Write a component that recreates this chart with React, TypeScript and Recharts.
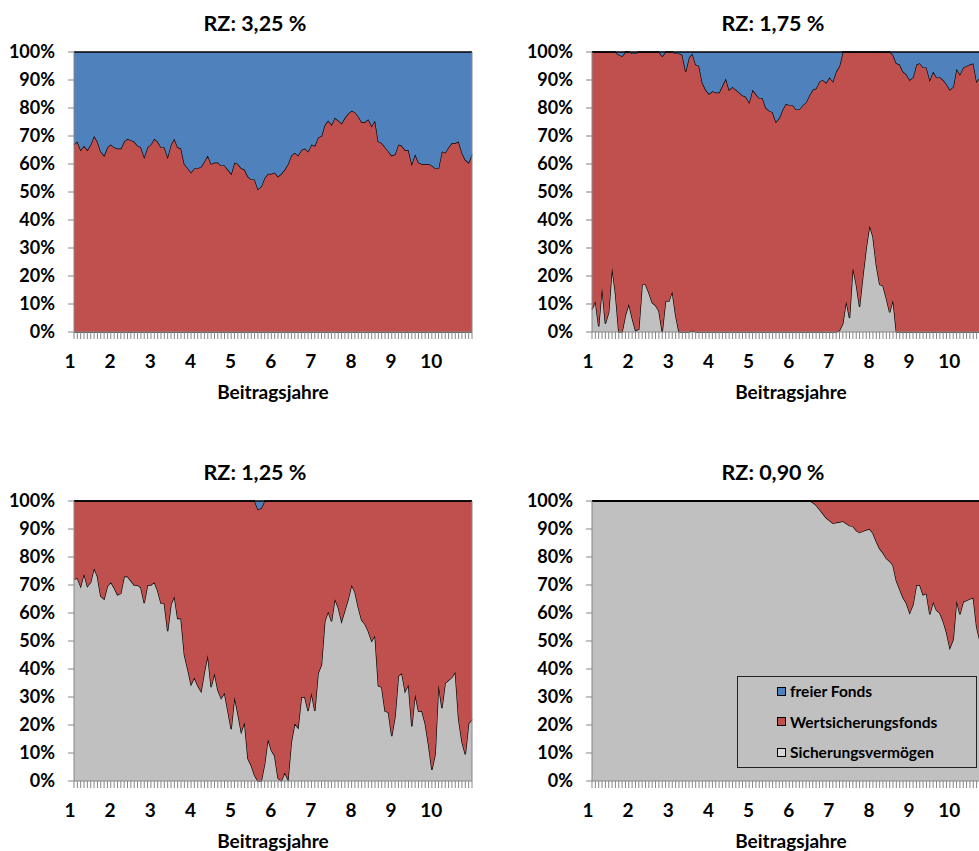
import { Area, AreaChart, ReferenceLine, XAxis, YAxis } from 'recharts'

// Anteile in % je Beitragsmonat (12 Werte je Zeile = ein Beitragsjahr).
// "Sv" = Sicherungsvermögen, "SvWf" = Sicherungsvermögen + Wertsicherungsfonds (kumuliert).
const rz325Sv = [
  0, 0, 0, 0, 0, 0, 0, 0, 0, 0, 0, 0,
  0, 0, 0, 0, 0, 0, 0, 0, 0, 0, 0, 0,
  0, 0, 0, 0, 0, 0, 0, 0, 0, 0, 0, 0,
  0, 0, 0, 0, 0, 0, 0, 0, 0, 0, 0, 0,
  0, 0, 0, 0, 0, 0, 0, 0, 0, 0, 0, 0,
  0, 0, 0, 0, 0, 0, 0, 0, 0, 0, 0, 0,
  0, 0, 0, 0, 0, 0, 0, 0, 0, 0, 0, 0,
  0, 0, 0, 0, 0, 0, 0, 0, 0, 0, 0, 0,
  0, 0, 0, 0, 0, 0, 0, 0, 0, 0, 0, 0,
  0, 0, 0, 0, 0, 0, 0, 0, 0, 0, 0, 0,
]
const rz325SvWf = [
  67, 68, 65, 66.5, 65, 67, 70, 68, 64.5, 63, 66, 67,
  66, 65.5, 65.5, 68, 69, 68.5, 68, 66.5, 66, 62.5, 66, 67,
  69, 68, 66, 66, 62.5, 67, 69, 66, 65.5, 60, 58.5, 57,
  58.5, 58.5, 59, 61, 63, 60, 60.5, 60.5, 59.5, 59.5, 58, 56.5,
  60.5, 60, 58.5, 58, 55.5, 54.5, 54.5, 51, 52, 55, 56.5, 56.5,
  57, 55.5, 56.5, 58, 60, 63, 64, 63, 65, 65.5, 64.5, 67,
  66.5, 69.5, 70, 74, 75.5, 74, 76.5, 75.5, 74.5, 76.5, 78, 79,
  78.5, 77, 75, 75, 76, 73.5, 75.5, 68, 67.5, 66, 64.5, 63,
  63.5, 67, 66.5, 65, 65, 60, 63.5, 60.5, 60, 60, 60, 59.5,
  58.5, 58.5, 64.5, 64, 66, 67.5, 67.5, 68, 64, 61.5, 60.5, 63.5,
]

const rz175Sv = [
  8, 11, 2, 16, 3, 7, 23, 14, 0, 0, 6, 10,
  5, 0.5, 1, 17, 17, 14, 10.5, 9.5, 7.5, 0, 11, 11,
  14.5, 6, 0, 0, 0, 0, 0.5, 0, 0, 0, 0, 0,
  0, 0, 0, 0, 0, 0, 0, 0, 0, 0, 0, 0,
  0, 0, 0, 0, 0, 0, 0, 0, 0, 0, 0, 0,
  0, 0, 0, 0, 0, 0, 0, 0, 0, 0, 0, 0,
  0, 0, 0.5, 3, 11, 5, 23, 17, 9, 20, 30, 38,
  34, 24, 17, 16.5, 12, 7, 11.5, 0, 0, 0, 0, 0,
  0, 0, 0, 0, 0, 0, 0, 0, 0, 0, 0, 0,
  0, 0, 0, 0, 0, 0, 0, 0, 0, 0, 0, 0,
]
const rz175SvWf = [
  100, 100, 100, 100, 100, 100, 100, 100, 99, 98.5, 100, 100,
  99.5, 99.5, 100, 100, 100, 100, 100, 100, 100, 98.5, 100, 100,
  100, 99.5, 99.5, 99, 93, 98, 99.5, 95.5, 95, 89, 86.5, 85,
  86, 85.5, 85.5, 88, 90.5, 86.5, 87.5, 86.5, 85.5, 84.5, 84, 82,
  86.5, 85, 83.5, 83.5, 80, 79, 78.5, 75, 76.5, 79.5, 81.5, 81,
  81, 79.5, 79.5, 81, 82, 84.5, 86.5, 87, 89.5, 90, 89, 91,
  89.5, 93, 95, 100, 100, 100, 100, 100, 100, 100, 100, 100,
  100, 100, 100, 100, 100, 100, 99, 96, 95.5, 93, 92, 90,
  91, 95.5, 96, 94.5, 94.5, 90, 93, 91, 91, 90, 88.5, 86.5,
  87.5, 94, 92, 94.5, 95, 95.5, 96, 89.5, 91, 92, 90, 91,
]

const rz125Sv = [
  72, 72.5, 69.5, 74, 69.5, 71, 76, 73, 66, 65, 69.5, 71,
  69, 66.5, 67, 73, 73, 71.5, 70, 70, 69, 63.5, 70, 70,
  71, 68, 63.5, 63.5, 53.5, 63, 66, 58, 58, 45, 40, 34.5,
  37, 34, 32, 39, 45, 33.5, 38.5, 32.5, 29.5, 31.5, 25, 18.5,
  30, 24, 17.5, 21, 8, 5.5, 2, 0, 0, 6, 15, 11,
  9, 1, 0, 3, 0.5, 14, 20.5, 19, 30, 30, 25, 31.5,
  25, 38.5, 41.5, 57, 60.5, 57, 65, 62, 57, 61, 65, 70,
  67.5, 62, 57.5, 56, 53.5, 50, 52, 34, 33.5, 25, 24.5, 16,
  23, 37.5, 38.5, 32, 34.5, 19.5, 31, 25, 25, 20.5, 13, 4,
  9.5, 34.5, 26, 35, 36, 37, 39, 22, 14, 9.5, 20.5, 22,
]
const rz125SvWf = [
  100, 100, 100, 100, 100, 100, 100, 100, 100, 100, 100, 100,
  100, 100, 100, 100, 100, 100, 100, 100, 100, 100, 100, 100,
  100, 100, 100, 100, 100, 100, 100, 100, 100, 100, 100, 100,
  100, 100, 100, 100, 100, 100, 100, 100, 100, 100, 100, 100,
  100, 100, 100, 100, 100, 100, 100, 97, 97.5, 100, 100, 100,
  100, 100, 100, 100, 100, 100, 100, 100, 100, 100, 100, 100,
  100, 100, 100, 100, 100, 100, 100, 100, 100, 100, 100, 100,
  100, 100, 100, 100, 100, 100, 100, 100, 100, 100, 100, 100,
  100, 100, 100, 100, 100, 100, 100, 100, 100, 100, 100, 100,
  100, 100, 100, 100, 100, 100, 100, 100, 100, 100, 100, 100,
]

const rz090Sv = [
  100, 100, 100, 100, 100, 100, 100, 100, 100, 100, 100, 100,
  100, 100, 100, 100, 100, 100, 100, 100, 100, 100, 100, 100,
  100, 100, 100, 100, 100, 100, 100, 100, 100, 100, 100, 100,
  100, 100, 100, 100, 100, 100, 100, 100, 100, 100, 100, 100,
  100, 100, 100, 100, 100, 100, 100, 100, 100, 100, 100, 100,
  100, 100, 100, 100, 100, 100, 99.5, 98.5, 97, 95.5, 94, 93,
  92, 92.3, 92.5, 92.8, 92, 91.2, 91, 89.5, 88.7, 89.2, 89.7, 90,
  88.5, 85.5, 83, 81.5, 79.5, 78.5, 77, 71.5, 68.5, 65.5, 63.5, 60,
  63, 70, 70, 66.5, 67, 59.5, 64, 61, 60, 57, 53, 47.5,
  50.5, 64.5, 59.5, 64, 64.5, 65, 65.5, 55, 50, 52, 55, 53,
]
const rz090SvWf = [
  100, 100, 100, 100, 100, 100, 100, 100, 100, 100, 100, 100,
  100, 100, 100, 100, 100, 100, 100, 100, 100, 100, 100, 100,
  100, 100, 100, 100, 100, 100, 100, 100, 100, 100, 100, 100,
  100, 100, 100, 100, 100, 100, 100, 100, 100, 100, 100, 100,
  100, 100, 100, 100, 100, 100, 100, 100, 100, 100, 100, 100,
  100, 100, 100, 100, 100, 100, 100, 100, 100, 100, 100, 100,
  100, 100, 100, 100, 100, 100, 100, 100, 100, 100, 100, 100,
  100, 100, 100, 100, 100, 100, 100, 100, 100, 100, 100, 100,
  100, 100, 100, 100, 100, 100, 100, 100, 100, 100, 100, 100,
  100, 100, 100, 100, 100, 100, 100, 100, 100, 100, 100, 100,
]

const YEAR_LABELS = ['1', '2', '3', '4', '5', '6', '7', '8', '9', '10']
const PERCENT_TICKS = [0, 10, 20, 30, 40, 50, 60, 70, 80, 90, 100]

const SERIES = [
  { key: 'ff', name: 'freier Fonds', color: '#4F81BD' },
  { key: 'wf', name: 'Wertsicherungsfonds', color: '#C0504D' },
  { key: 'sv', name: 'Sicherungsvermögen', color: '#C0C0C0' },
]

const FONT = 'Lato, "Open Sans", sans-serif'
const AXIS = '#868686'
const CHART_W = 518
const CHART_H = 440
const MONTH_TICKS = rz325SvWf.map((_, i) => i)
const LAST_MONTH = MONTH_TICKS.length - 1

function buildRows(sv: number[], svwf: number[]) {
  return sv.map((value, i) => ({
    m: i,
    sv: value,
    wf: svwf[i] - value,
    ff: 100 - svwf[i],
  }))
}

function YearTick(props: any) {
  const { x, y, payload } = props
  if (payload.value % 12 !== 0) return <g />
  return (
    <text
      x={x - 4}
      y={y + 21}
      textAnchor="middle"
      dominantBaseline="central"
      fontFamily={FONT}
      fontSize={19}
      fontWeight={700}
      fill="#000"
    >
      {YEAR_LABELS[payload.value / 12]}
    </text>
  )
}

interface PanelProps {
  title: string
  sv: number[]
  svwf: number[]
  left: number
  top: number
}

function Panel({ title, sv, svwf, left, top }: PanelProps) {
  const rows = buildRows(sv, svwf)
  const stackOrder = [...SERIES].reverse()

  return (
    <div style={{ position: 'absolute', left, top, width: CHART_W, height: CHART_H }}>
      <div
        style={{
          position: 'absolute',
          left: 0,
          width: 510,
          top: 8,
          height: 30,
          lineHeight: '30px',
          textAlign: 'center',
          fontSize: 21.5,
          fontWeight: 700,
          color: '#000',
        }}
      >
        {title}
      </div>
      <AreaChart
        width={CHART_W}
        height={CHART_H}
        data={rows}
        margin={{ top: 52, right: 46, bottom: 58, left: 14 }}
      >
        <XAxis
          type="number"
          dataKey="m"
          domain={[0, LAST_MONTH]}
          ticks={MONTH_TICKS}
          interval={0}
          tickSize={7}
          tickMargin={0}
          height={50}
          axisLine={{ stroke: AXIS }}
          tickLine={{ stroke: AXIS }}
          tick={(p: any) => <YearTick {...p} />}
        />
        <YAxis
          type="number"
          domain={[0, 100]}
          ticks={PERCENT_TICKS}
          interval={0}
          width={60}
          tickSize={6}
          tickMargin={13}
          axisLine={{ stroke: AXIS }}
          tickLine={{ stroke: AXIS }}
          tickFormatter={(v) => `${v}%`}
          tick={{ fill: '#000', fontSize: 18, fontWeight: 700, fontFamily: FONT }}
        />
        {stackOrder.map((s) => (
          <Area
            key={s.key}
            type="linear"
            dataKey={s.key}
            name={s.name}
            stackId="anteil"
            fill={s.color}
            fillOpacity={1}
            stroke="#000"
            strokeWidth={1.3}
            dot={false}
            activeDot={false}
            isAnimationActive={false}
          />
        ))}
        <ReferenceLine x={LAST_MONTH} stroke={AXIS} />
      </AreaChart>
      <div
        style={{
          position: 'absolute',
          left: 74,
          width: 398,
          top: 377,
          height: 30,
          lineHeight: '30px',
          textAlign: 'center',
          fontSize: 19,
          fontWeight: 700,
          color: '#000',
        }}
      >
        Beitragsjahre
      </div>
    </div>
  )
}

function Legend() {
  return (
    <div
      style={{
        position: 'absolute',
        left: 737,
        top: 676,
        width: 240,
        height: 92,
        boxSizing: 'border-box',
        border: '1px solid #222',
      }}
    >
      {SERIES.map((s, i) => (
        <div
          key={s.key}
          style={{
            position: 'absolute',
            left: 39,
            top: 3 + i * 30.5,
            height: 22,
            display: 'flex',
            alignItems: 'center',
            whiteSpace: 'nowrap',
          }}
        >
          <span
            style={{
              width: 9,
              height: 9,
              boxSizing: 'border-box',
              border: '1px solid #000',
              background: s.key === 'sv' ? '#D8D8D8' : s.color,
              marginRight: 4,
            }}
          />
          <span style={{ fontSize: 15.5, fontWeight: 700, color: '#000' }}>{s.name}</span>
        </div>
      ))}
    </div>
  )
}

export default function App() {
  return (
    <div
      style={{
        position: 'absolute',
        left: 0,
        top: 0,
        width: 979,
        height: 851,
        overflow: 'hidden',
        background: '#fff',
        fontFamily: FONT,
      }}
    >
      <Panel title="RZ: 3,25 %" sv={rz325Sv} svwf={rz325SvWf} left={0} top={0} />
      <Panel title="RZ: 1,75 %" sv={rz175Sv} svwf={rz175SvWf} left={518} top={0} />
      <Panel title="RZ: 1,25 %" sv={rz125Sv} svwf={rz125SvWf} left={0} top={449} />
      <Panel title="RZ: 0,90 %" sv={rz090Sv} svwf={rz090SvWf} left={518} top={449} />
      <Legend />
    </div>
  )
}
